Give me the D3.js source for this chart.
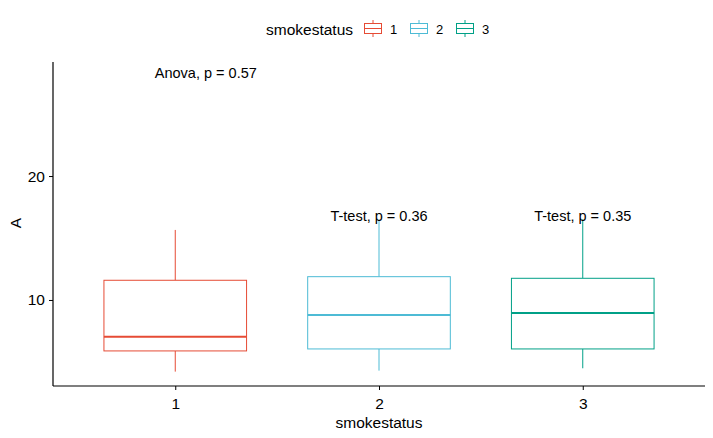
<!DOCTYPE html>
<html>
<head>
<meta charset="utf-8">
<script src="https://cdn.jsdelivr.net/npm/d3@7"></script>
<style>
	body { margin: 0; background: #fff; }
	text { font-family: "Liberation Sans", Arial, sans-serif; }
</style>
</head>
<body>
<div id="chart"></div>
<script>
// box stats
const groups = ["1", "2", "3"];
const colors = ["#E64B35", "#4DBBD5", "#00A087"];
const whiskerLow = [4.22, 4.30, 4.49];
const q1 = [5.89, 6.05, 6.05];
const medians = [7.04, 8.79, 8.95];
const q3 = [11.59, 11.88, 11.75];
const whiskerHigh = [15.65, 16.5, 16.5];
const yTicks = [10, 20];

// p-value labels
const annoText = ["Anova, p = 0.57", "T-test, p = 0.36", "T-test, p = 0.35"];
const annoX = [1.15, 2, 3];
const annoY = [27.9, 16.35, 16.35];

const width = 713, height = 438;
const margin = {top: 62, right: 8, bottom: 52, left: 53};

const svg = d3.select('#chart').append('svg')
	.attr('width', width)
	.attr('height', height);

const x = d3.scaleLinear()
	.domain([0.4, 3.6])
	.range([margin.left, width - margin.right]);

const y = d3.scaleLinear()
	.domain([3.06, 29.2])
	.range([height - margin.bottom, margin.top]);

const boxW = 0.7;
const data = groups.map((g, i) => ({
	g: g, i: i + 1, col: colors[i],
	lo: whiskerLow[i], q1: q1[i], med: medians[i], q3: q3[i], hi: whiskerHigh[i]
}));

const boxes = svg.append('g').selectAll('g').data(data).enter().append('g');

boxes.append('line')
	.attr('x1', d => x(d.i)).attr('x2', d => x(d.i))
	.attr('y1', d => y(d.q3)).attr('y2', d => y(d.hi))
	.attr('stroke', d => d.col);
boxes.append('line')
	.attr('x1', d => x(d.i)).attr('x2', d => x(d.i))
	.attr('y1', d => y(d.q1)).attr('y2', d => y(d.lo))
	.attr('stroke', d => d.col);
boxes.append('rect')
	.attr('x', d => x(d.i - boxW / 2))
	.attr('width', d => x(d.i + boxW / 2) - x(d.i - boxW / 2))
	.attr('y', d => y(d.q3))
	.attr('height', d => y(d.q1) - y(d.q3))
	.attr('fill', 'white')
	.attr('stroke', d => d.col);
boxes.append('line')
	.attr('x1', d => x(d.i - boxW / 2)).attr('x2', d => x(d.i + boxW / 2))
	.attr('y1', d => y(d.med)).attr('y2', d => y(d.med))
	.attr('stroke', d => d.col)
	.attr('stroke-width', 2);

// axes
const xAxis = svg.append('g')
	.attr('transform', `translate(0,${height - margin.bottom})`)
	.call(d3.axisBottom(x).tickValues([1, 2, 3]).tickFormat(d => groups[d - 1]).tickSizeOuter(0).tickSize(4));
const yAxis = svg.append('g')
	.attr('transform', `translate(${margin.left},0)`)
	.call(d3.axisLeft(y).tickValues(yTicks).tickSizeOuter(0).tickSize(4));

[xAxis, yAxis].forEach(a => {
	a.select('.domain').remove();
	a.selectAll('.tick line').attr('stroke', 'black');
	a.selectAll('.tick text')
		.attr('fill', 'black')
		.style('font-size', '15.5px')
		.style('font-family', '"Liberation Sans", Arial, sans-serif');
});
xAxis.selectAll('.tick text').attr('dy', '1.05em');
yAxis.selectAll('.tick text').attr('x', -8);

// axis lines
svg.append('line')
	.attr('x1', margin.left).attr('x2', width - margin.right)
	.attr('y1', height - margin.bottom).attr('y2', height - margin.bottom)
	.attr('stroke', 'black').attr('stroke-width', 1.2);
svg.append('line')
	.attr('x1', margin.left).attr('x2', margin.left)
	.attr('y1', margin.top).attr('y2', height - margin.bottom)
	.attr('stroke', 'black').attr('stroke-width', 1.2);

svg.append('text')
	.attr('x', x(2)).attr('y', 428)
	.attr('text-anchor', 'middle')
	.style('font-size', '15.5px')
	.text('smokestatus');
svg.append('text')
	.attr('transform', `translate(21,${y(16.2)}) rotate(-90)`)
	.attr('text-anchor', 'middle')
	.style('font-size', '15.5px')
	.text('A');

// annotations
svg.append('g').selectAll('text').data(annoText).enter().append('text')
	.attr('x', (d, i) => x(annoX[i]))
	.attr('y', (d, i) => y(annoY[i]))
	.attr('text-anchor', 'middle')
	.style('font-size', '14.5px')
	.text(d => d);

// legend
const legend = svg.append('g');
legend.append('text')
	.attr('x', 266).attr('y', 35)
	.style('font-size', '15.5px')
	.text('smokestatus');
const keyX = [364, 410, 456];
const keys = legend.selectAll('g.key').data(data).enter().append('g')
	.attr('transform', (d, i) => `translate(${keyX[i]},20)`);
keys.append('line').attr('x1', 9).attr('x2', 9).attr('y1', 0).attr('y2', 17).attr('stroke', d => d.col);
keys.append('rect').attr('x', 0.5).attr('y', 3.5).attr('width', 17).attr('height', 10)
	.attr('fill', 'white').attr('stroke', d => d.col);
keys.append('line').attr('x1', 0.5).attr('x2', 17.5).attr('y1', 8.5).attr('y2', 8.5).attr('stroke', d => d.col);
keys.append('text')
	.attr('x', 26).attr('y', 14)
	.style('font-size', '13px')
	.text(d => d.g);
</script>
</body>
</html>
